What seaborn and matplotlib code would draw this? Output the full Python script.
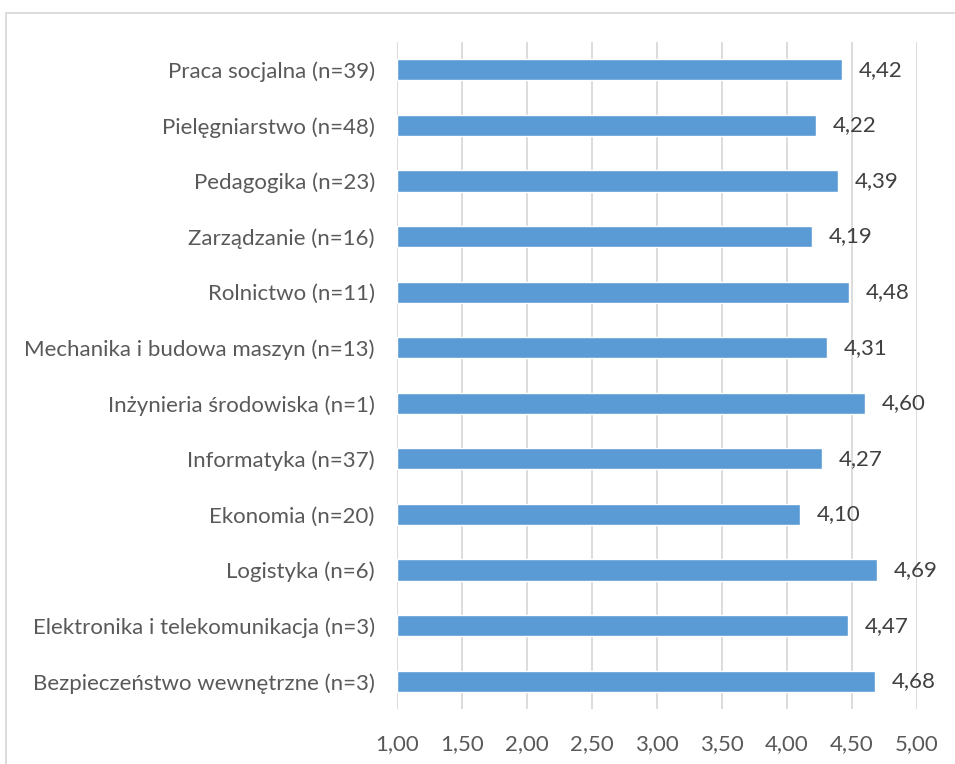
import matplotlib
matplotlib.use("Agg")
import matplotlib.pyplot as plt
from matplotlib.lines import Line2D
import seaborn as sns
import pandas as pd

# Kierunki studiów (od góry do dołu) i średnie oceny
kierunki = [
    "Praca socjalna (n=39)",
    "Pielęgniarstwo (n=48)",
    "Pedagogika (n=23)",
    "Zarządzanie (n=16)",
    "Rolnictwo (n=11)",
    "Mechanika i budowa maszyn (n=13)",
    "Inżynieria środowiska (n=1)",
    "Informatyka (n=37)",
    "Ekonomia (n=20)",
    "Logistyka (n=6)",
    "Elektronika i telekomunikacja (n=3)",
    "Bezpieczeństwo wewnętrzne (n=3)",
]
srednie = [4.42, 4.22, 4.39, 4.19, 4.48, 4.31, 4.60, 4.27, 4.10, 4.69, 4.47, 4.68]
x_ticks = [1.0, 1.5, 2.0, 2.5, 3.0, 3.5, 4.0, 4.5, 5.0]

BAR_COLOR = "#5B9BD5"
LABEL_COLOR = "#595959"
VALUE_COLOR = "#404040"
FS = 16

sns.set_style("white")
plt.rcParams["font.family"] = ["Lato", "DejaVu Sans"]

df = pd.DataFrame({"kierunek": kierunki, "srednia": srednie})

fig = plt.figure(figsize=(9.55, 7.64), dpi=100)
ax = fig.add_axes([397 / 955, 1 - 709 / 764, 520 / 955, 667 / 764])

sns.barplot(data=df, x="srednia", y="kierunek", order=kierunki,
            color=BAR_COLOR, saturation=1, width=0.38, ax=ax)

# Excel-style bars start at 1.00, so draw from the axis minimum
for bar in ax.patches:
    w = bar.get_width()
    bar.set_x(1.0)
    bar.set_width(w - 1.0)

ax.set_xlim(1.0, 5.0)
ax.set_ylim(len(kierunki) - 0.5, -0.5)
ax.set_xticks(x_ticks)
ax.set_xticklabels([f"{t:.2f}".replace(".", ",") for t in x_ticks])
ax.set_xlabel("")
ax.set_ylabel("")

ax.grid(axis="x", color="#D9D9D9", linewidth=1.3)
ax.set_axisbelow(True)
for s in ax.spines.values():
    s.set_visible(False)
ax.tick_params(axis="both", length=0, labelsize=FS, labelcolor=LABEL_COLOR)
ax.tick_params(axis="x", pad=18)
ax.tick_params(axis="y", pad=16)

# Etykiety wartości
for i, v in enumerate(srednie):
    ax.annotate(f"{v:.2f}".replace(".", ","), xy=(v, i), xytext=(12, 0),
                textcoords="offset points", va="center", ha="left",
                fontsize=FS, color=VALUE_COLOR)

# Ramka obszaru wykresu
fig.add_artist(Line2D([6 / 955, 1], [1 - 13 / 764, 1 - 13 / 764],
                      transform=fig.transFigure, color="#D9D9D9", lw=1.3))
fig.add_artist(Line2D([6 / 955, 6 / 955], [0, 1 - 13 / 764],
                      transform=fig.transFigure, color="#D9D9D9", lw=1.3))

fig.savefig("out.png", dpi=100)
